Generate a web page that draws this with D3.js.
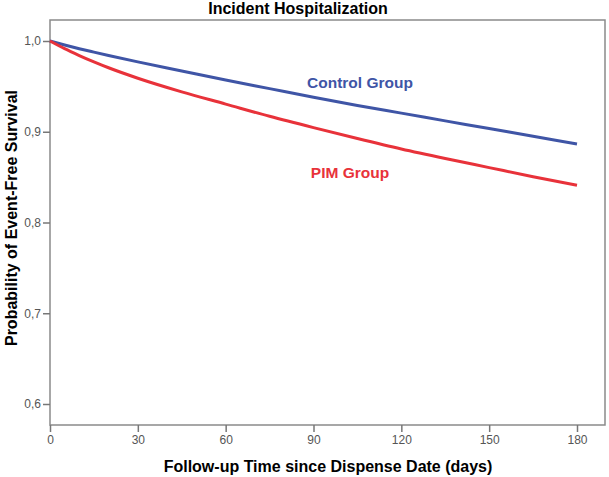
<!DOCTYPE html>
<html>
<head>
<meta charset="utf-8">
<script src="https://cdn.jsdelivr.net/npm/d3@7"></script>
<style>
  body { margin: 0; background: #fff; }
  svg { display: block; font-family: "Liberation Sans", Arial, sans-serif; }
</style>
</head>
<body>
<svg></svg>
<script>
// survival estimates
let days = [0, 5, 10, 15, 20, 30, 45, 60, 75, 90, 105, 120, 135, 150, 165, 180]
let controlValues = [1.0, 0.9956, 0.9915, 0.9877, 0.984, 0.977, 0.967, 0.957, 0.9475, 0.938, 0.929, 0.9205, 0.912, 0.9035, 0.895, 0.8865]
let pimValues = [1.0, 0.9915, 0.984, 0.977, 0.9705, 0.959, 0.944, 0.9305, 0.917, 0.9045, 0.8925, 0.881, 0.8705, 0.8605, 0.8505, 0.841]
let xTicks = [0, 30, 60, 90, 120, 150, 180]
let yTicks = [0.6, 0.7, 0.8, 0.9, 1.0]

let width = 609
let height = 477
let plotLeft = 50, plotRight = 605, plotTop = 20, plotBottom = 425

let svg = d3.select('svg')
    .attr('width', width)
    .attr('height', height)

let xScale = d3.scaleLinear()
    .domain([0, 180])
    .range([plotLeft, 577])

let yScale = d3.scaleLinear()
    .domain([0.6, 1.0])
    .range([404, 41])

// plot frame
svg.append('rect')
    .attr('x', plotLeft)
    .attr('y', plotTop)
    .attr('width', plotRight - plotLeft)
    .attr('height', plotBottom - plotTop)
    .attr('fill', 'none')
    .attr('stroke', '#8a8a8a')
    .attr('stroke-width', 1.5)

let fmt = d => d3.format('.1f')(d).replace('.', ',')

let yAxis = svg.append('g')
    .attr('transform', 'translate(' + plotLeft + ',0)')
    .call(d3.axisLeft(yScale).tickValues(yTicks).tickFormat(fmt).tickSize(7).tickPadding(2))
yAxis.select('.domain').remove()

let xAxis = svg.append('g')
    .attr('transform', 'translate(0,' + plotBottom + ')')
    .call(d3.axisBottom(xScale).tickValues(xTicks).tickSize(7).tickPadding(3))
xAxis.select('.domain').remove()

svg.selectAll('.tick line').attr('stroke', '#777').attr('stroke-width', 1.5)
svg.selectAll('.tick text').attr('fill', '#555').style('font-size', '12px')

let line = d3.line()
    .x(d => xScale(d[0]))
    .y(d => yScale(d[1]))
    .curve(d3.curveMonotoneX)

svg.append('path')
    .datum(days.map((d, i) => [d, controlValues[i]]))
    .attr('d', line)
    .attr('fill', 'none')
    .attr('stroke', '#3f55a6')
    .attr('stroke-width', 3)

svg.append('path')
    .datum(days.map((d, i) => [d, pimValues[i]]))
    .attr('d', line)
    .attr('fill', 'none')
    .attr('stroke', '#e8323a')
    .attr('stroke-width', 3)

svg.append('text')
    .attr('x', 360).attr('y', 88)
    .attr('text-anchor', 'middle')
    .attr('fill', '#3f55a6')
    .style('font-size', '15.5px').style('font-weight', 'bold')
    .text('Control Group')

svg.append('text')
    .attr('x', 350).attr('y', 178)
    .attr('text-anchor', 'middle')
    .attr('fill', '#e8323a')
    .style('font-size', '15.5px').style('font-weight', 'bold')
    .text('PIM Group')

svg.append('text')
    .attr('x', 298).attr('y', 14)
    .attr('text-anchor', 'middle')
    .style('font-size', '16px').style('font-weight', 'bold')
    .text('Incident Hospitalization')

svg.append('text')
    .attr('x', 328).attr('y', 472)
    .attr('text-anchor', 'middle')
    .style('font-size', '16px').style('font-weight', 'bold')
    .text('Follow-up Time since Dispense Date (days)')

svg.append('text')
    .attr('transform', 'translate(17,218) rotate(-90)')
    .attr('text-anchor', 'middle')
    .style('font-size', '16px').style('font-weight', 'bold')
    .text('Probability of Event-Free Survival')
</script>
</body>
</html>
